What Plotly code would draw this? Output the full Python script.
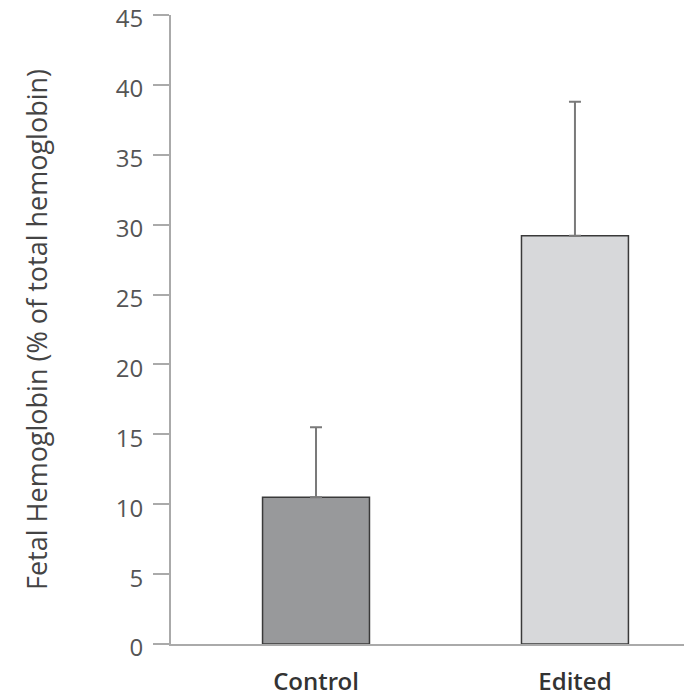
import plotly.graph_objects as go

categories = ["Control", "Edited"]
values = [10.5, 29.2]
err_plus = [5.0, 9.6]
colors = ["#98999b", "#d7d8da"]
yticks = [0, 5, 10, 15, 20, 25, 30, 35, 40, 45]

fig = go.Figure()
fig.add_trace(go.Bar(
    x=categories, y=values, width=0.413,
    marker=dict(color=colors, line=dict(color="#3a3a3a", width=1.5)),
    error_y=dict(type="data", symmetric=False, array=err_plus,
                 arrayminus=[0, 0], color="#7a7a7a", thickness=2, width=6),
))
fig.update_layout(
    width=684, height=689,
    margin=dict(l=163, r=0, t=7, b=53),
    paper_bgcolor="white", plot_bgcolor="white",
    showlegend=False,
    font=dict(family="Open Sans", color="#555"),
    xaxis=dict(range=[-0.56, 1.452], showline=True, linecolor="#aaaaaa", linewidth=2,
               ticks="", ticklabelstandoff=15, showgrid=False, zeroline=False,
               automargin=False, ticklabeloverflow="allow",
               tickfont=dict(size=24, color="#333", family="Open Sans SemiBold, Open Sans")),
    yaxis=dict(range=[0, 45], tickvals=yticks, showline=True, linecolor="#aaaaaa", linewidth=2,
               ticks="outside", ticklen=16, tickcolor="#aaaaaa", tickwidth=2,
               showgrid=False, zeroline=False, ticklabelstandoff=5, automargin=False,
               ticklabeloverflow="allow", ticklabelshift=4,
               tickfont=dict(size=24, color="#555"),
               title=dict(text="Fetal Hemoglobin (% of total hemoglobin)", standoff=60,
                          font=dict(size=27, color="#444"))),
)
fig.write_html("out.html")
